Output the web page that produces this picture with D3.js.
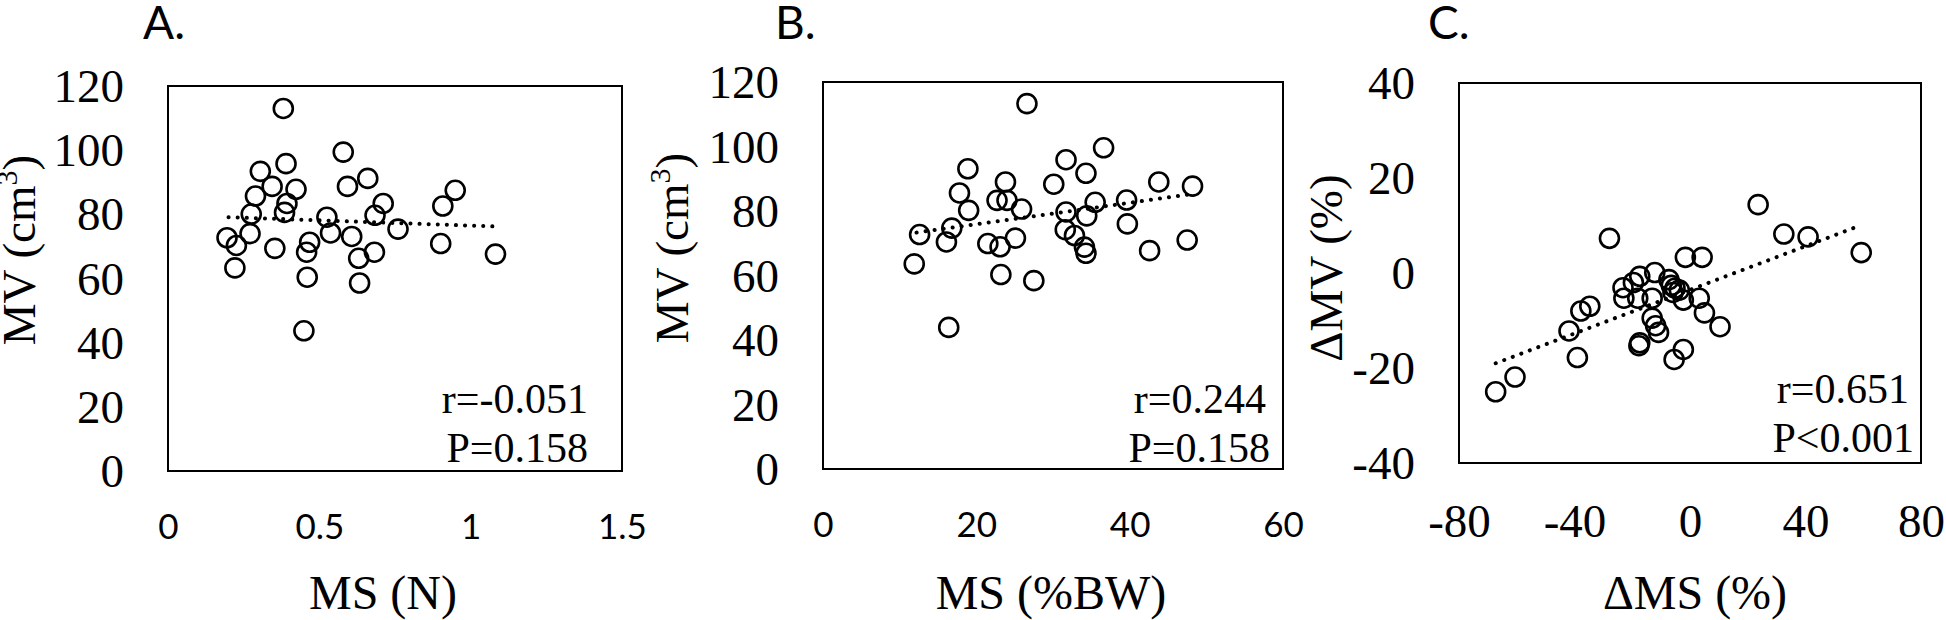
<!DOCTYPE html>
<html><head><meta charset="utf-8">
<script src="https://cdn.jsdelivr.net/npm/d3@7"></script>
<style>
html,body{margin:0;padding:0;background:#fff;}
svg{display:block;}
</style></head>
<body>
<svg id="chart" width="1946" height="620"></svg>
<script>
// ---------- DATA ----------
// Panel A: MS (N) vs MV (cm3)
const msN = [0.381,0.579,0.390,0.305,0.660,0.344,0.423,0.593,0.949,0.289,0.393,0.711,0.908,0.385,0.275,0.525,0.684,0.760,0.537,0.271,0.195,0.607,0.468,0.226,0.458,0.353,0.682,0.901,1.082,0.630,0.221,0.460,0.633,0.449];
const mvA = [113.0,99.4,95.8,93.4,91.2,88.7,87.8,88.7,87.5,85.7,83.4,83.4,82.6,80.6,80.1,79.1,79.7,75.4,74.2,74.0,72.7,73.1,71.3,70.3,68.2,69.4,68.2,70.9,67.6,66.3,63.3,60.4,58.6,43.7];
// Panel B: MS (%BW) vs MV (cm3)
const msBW = [26.6,36.6,31.7,18.9,34.3,23.8,43.8,30.1,48.2,17.8,22.7,24.0,39.6,35.5,25.9,19.0,31.7,34.4,39.7,16.8,31.6,12.6,32.8,25.1,16.1,47.5,21.5,23.1,34.1,42.6,34.3,11.9,23.2,27.5,16.4];
const mvB = [113.3,99.6,95.9,93.1,91.7,89.0,89.0,88.3,87.7,85.6,83.3,83.3,83.4,82.7,80.6,80.2,79.7,78.5,76.0,74.7,74.2,72.7,72.4,71.6,70.4,71.0,69.9,68.9,68.8,67.7,66.9,63.6,60.3,58.4,43.9];
// Panel C: ΔMS (%) vs ΔMV (%)
const dMS = [23.6,-27.9,32.5,40.9,59.3,-1.6,4.2,-12.2,-17.4,-7.3,-19.6,-23.2,-6.5,-5.2,-3.7,-5.9,-22.9,-18.1,-13.1,-2.3,3.2,-34.7,-37.8,5.0,-13.1,-11.9,10.4,-41.9,-10.9,-17.4,-17.7,-2.3,-39.0,-5.5,-60.6,-67.3];
const dMV = [14.4,7.3,8.2,7.6,4.3,3.3,3.3,0.1,-0.7,-1.4,-2.0,-3.1,-2.6,-3.2,-3.6,-4.1,-5.3,-5.3,-5.3,-5.7,-5.3,-7.0,-8.0,-8.4,-9.5,-11.1,-11.3,-12.2,-12.5,-14.7,-15.3,-16.1,-17.8,-18.2,-21.9,-25.0];
// Linear trend line end points
const trendA = [[0.20,79.1],[1.09,76.2]];
const trendB = [[12.2,73.3],[47.7,85.1]];
const trendC = [[-67.3,-19.0],[58.1,9.8]];
// Tick values
const xTicksA = [0,0.5,1,1.5];
const xTicksB = [0,20,40,60];
const xTicksC = [-80,-40,0,40,80];
const yTicksAB = [0,20,40,60,80,100,120];
const yTicksC = [-40,-20,0,20,40];
// Text
const panelLabels = ["A.","B.","C."];
const xTitles = ["MS (N)","MS (%BW)","\u0394MS (%)"];
const statsR = ["r=-0.051","r=0.244","r=0.651"];
const statsP = ["P=0.158","P=0.158","P<0.001"];

// ---------- LAYOUT ----------
const serif = "'Liberation Serif','Times New Roman',serif";
const sans = "Lato,'Open Sans','Liberation Sans',sans-serif";
const fmt = d => String(d);   // plain hyphen-minus, as in the figure
const panels = [
  {box:{l:168,r:622,t:86,b:471}, x:msN, y:mvA, trend:trendA, xd:[0,1.5], yd:[0,120], xt:xTicksA, yt:yTicksAB, xFont:sans, xFs:35, xBase:68,
   label:{x:143}, xTitleX:383, yTitle:{x:35,y:250,sup:true}, rx:588, px:588, rY:413, pY:462},
  {box:{l:823,r:1283,t:82,b:469}, x:msBW, y:mvB, trend:trendB, xd:[0,60], yd:[0,120], xt:xTicksB, yt:yTicksAB, xFont:sans, xFs:35, xBase:68,
   label:{x:775}, xTitleX:1051, yTitle:{x:688,y:248,sup:true}, rx:1266, px:1270, rY:413, pY:462},
  {box:{l:1459,r:1921,t:83,b:463}, x:dMS, y:dMV, trend:trendC, xd:[-80,80], yd:[-40,40], xt:xTicksC, yt:yTicksC, xFont:serif, xFs:47, xBase:74,
   label:{x:1428}, xTitleX:1695, yTitle:{x:1342,y:268,sup:false}, rx:1909, px:1914, rY:403, pY:452}
];

const svg = d3.select("#chart");
svg.append("rect").attr("width",1946).attr("height",620).attr("fill","#fff");

panels.forEach((p,i)=>{
  const xs = d3.scaleLinear().domain(p.xd).range([p.box.l,p.box.r]);
  const ys = d3.scaleLinear().domain(p.yd).range([p.box.b,p.box.t]);
  const g = svg.append("g");

  // plot box
  g.append("rect").attr("x",p.box.l).attr("y",p.box.t)
    .attr("width",p.box.r-p.box.l).attr("height",p.box.b-p.box.t)
    .attr("fill","none").attr("stroke","#000").attr("stroke-width",2);

  // y axis
  const ya = g.append("g").attr("transform",`translate(${p.box.l},0)`)
    .call(d3.axisLeft(ys).tickValues(p.yt).tickSize(0).tickPadding(44).tickFormat(fmt));
  ya.select(".domain").remove();
  ya.selectAll("text").attr("font-family",serif).attr("font-size",47).attr("fill","#000").attr("dy","0.33em");

  // x axis
  const xa = g.append("g").attr("transform",`translate(0,${p.box.b})`)
    .call(d3.axisBottom(xs).tickValues(p.xt).tickSize(0).tickFormat(fmt));
  xa.select(".domain").remove();
  xa.selectAll("text").attr("font-family",p.xFont).attr("font-size",p.xFs).attr("fill","#000")
    .attr("dy",null).attr("y",p.xBase);

  // trend line (dotted)
  g.append("path").datum(p.trend)
    .attr("d",d3.line().x(d=>xs(d[0])).y(d=>ys(d[1])))
    .attr("fill","none").attr("stroke","#000").attr("stroke-width",4)
    .attr("stroke-linecap","round").attr("stroke-dasharray","0.1 9");

  // points
  g.selectAll("circle.pt").data(p.x.map((v,k)=>[v,p.y[k]])).enter().append("circle")
    .attr("class","pt").attr("cx",d=>xs(d[0])).attr("cy",d=>ys(d[1])).attr("r",9.5)
    .attr("fill","none").attr("stroke","#000").attr("stroke-width",2.6);

  // panel label
  g.append("text").attr("x",p.label.x).attr("y",39).attr("font-family",sans).attr("font-size",46)
    .attr("fill","#000").text(panelLabels[i]);

  // stats
  g.append("text").attr("x",p.rx).attr("y",p.rY).attr("text-anchor","end").attr("font-family",serif)
    .attr("font-size",42).attr("fill","#000").text(statsR[i]);
  g.append("text").attr("x",p.px).attr("y",p.pY).attr("text-anchor","end").attr("font-family",serif)
    .attr("font-size",42).attr("fill","#000").text(statsP[i]);

  // x title
  g.append("text").attr("x",p.xTitleX).attr("y",609).attr("text-anchor","middle").attr("font-family",serif)
    .attr("font-size",48).attr("fill","#000").text(xTitles[i]);

  // y title
  const yt = g.append("text").attr("transform",`translate(${p.yTitle.x},${p.yTitle.y}) rotate(-90)`)
    .attr("text-anchor","middle").attr("font-family",serif).attr("font-size",47).attr("fill","#000");
  if(p.yTitle.sup){
    yt.append("tspan").text("MV (cm");
    yt.append("tspan").attr("font-size",30).attr("dy",-18).text("3");
    yt.append("tspan").attr("dy",18).text(")");
  } else {
    yt.text("\u0394MV (%)");
  }
});
</script>
</body></html>
